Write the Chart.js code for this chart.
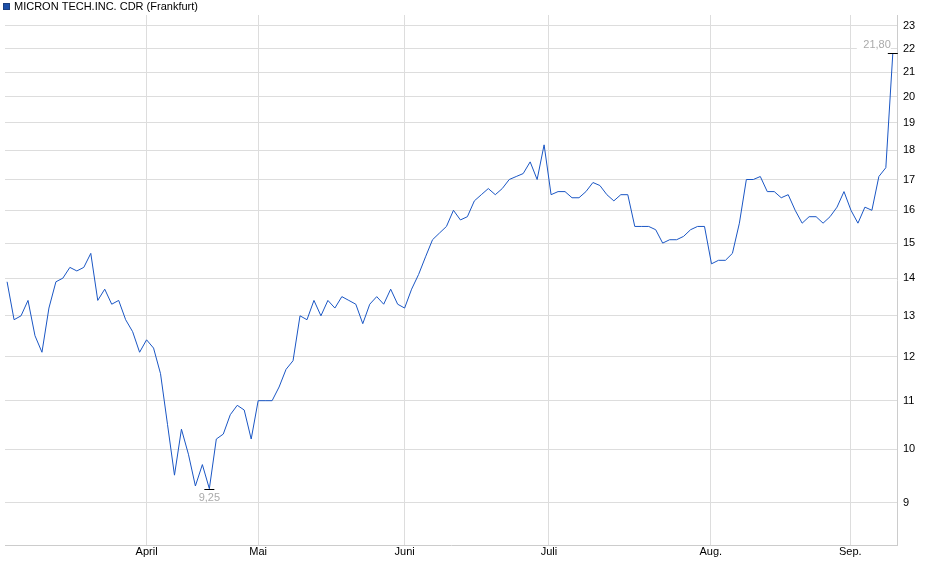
<!DOCTYPE html>
<html><head><meta charset="utf-8">
<script src="https://cdn.jsdelivr.net/npm/chart.js@4"></script>
<style>html,body{margin:0;padding:0;background:#fff}#w{width:940px;height:579px}</style>
</head><body><div id="w"><canvas id="c"></canvas></div>
<script>
const seriesName = "MICRON TECH.INC. CDR (Frankfurt)";
const prices = [13.9,12.9,13.0,13.4,12.5,12.1,13.2,13.9,14.0,14.3,14.2,14.3,14.7,13.4,13.7,13.3,13.4,12.9,12.6,12.1,
12.4,12.2,11.6,10.5,9.5,10.4,9.9,9.3,9.7,9.25,10.2,10.3,10.7,10.9,10.8,10.2,11.0,11.0,11.0,11.3,
11.7,11.9,13.0,12.9,13.4,13.0,13.4,13.2,13.5,13.4,13.3,12.8,13.3,13.5,13.3,13.7,13.3,13.2,13.7,14.1,
14.6,15.1,15.3,15.5,16.0,15.7,15.8,16.3,16.5,16.7,16.5,16.7,17.0,17.1,17.2,17.6,17.0,18.2,16.5,16.6,
16.6,16.4,16.4,16.6,16.9,16.8,16.5,16.3,16.5,16.5,15.5,15.5,15.5,15.4,15.0,15.1,15.1,15.2,15.4,15.5,
15.5,14.4,14.5,14.5,14.7,15.6,17.0,17.0,17.1,16.6,16.6,16.4,16.5,16.0,15.6,15.8,15.8,15.6,15.8,16.1,
16.6,16.0,15.6,16.1,16.0,17.1,17.4,21.8];
const monthLabels = ["April","Mai","Juni","Juli","Aug.","Sep."];
const monthIdx = [20,36,57,77.7,100.9,120.9];
const yTicks = [9,10,11,12,13,14,15,16,17,18,19,20,21,22,23];
const minIdx = 29, maxIdx = prices.length-1;
const fmt = v => v.toFixed(2).replace('.', ',');

const ann = {
  id:'ann',
  afterDatasetsDraw(ch){
    const c=ch.ctx, x=ch.scales.x, y=ch.scales.y;
    c.save();
    c.strokeStyle='#000'; c.lineWidth=1;
    [[minIdx,'below'],[maxIdx,'above']].forEach(([i,pos])=>{
      const px=x.getPixelForValue(i), py=Math.round(y.getPixelForValue(prices[i]))+0.5;
      c.beginPath(); c.moveTo(px-5,py); c.lineTo(px+5,py); c.stroke();
      c.font='11px Arial, "Liberation Sans", sans-serif'; c.fillStyle='#aaa';
      if(pos==='below'){c.textAlign='center';c.textBaseline='top';c.fillText(fmt(prices[i]),px,py+3);}
      else{c.textAlign='right';c.textBaseline='bottom';c.fillStyle='#fff';c.fillRect(px-36,py-17,34,13);c.fillStyle='#aaa';c.fillText(fmt(prices[i]),px-2,py-3);}
    });
    c.fillStyle='#1c4fa8'; c.fillRect(3,3,7,7);
    c.strokeStyle='#1c3f80'; c.strokeRect(3.5,3.5,6,6);
    c.fillStyle='#000'; c.font='11px Arial, "Liberation Sans", sans-serif';
    c.textAlign='left'; c.textBaseline='middle'; c.fillText(seriesName,14,7);
    c.restore();
  }
};

new Chart(document.getElementById('c'),{
  type:'line',
  data:{datasets:[{data:prices.map((v,i)=>({x:i,y:v})),borderColor:'#1a56c4',borderWidth:1,pointRadius:0,tension:0}]},
  options:{
    responsive:true, maintainAspectRatio:false, animation:false,
    layout:{padding:{top:15,left:5,right:0,bottom:0}},
    plugins:{legend:{display:false},tooltip:{enabled:false}},
    scales:{
      x:{type:'linear',min:-0.3,max:127.6,
        afterBuildTicks:s=>{s.ticks=monthIdx.map(v=>({value:v}));},
        afterFit:s=>{s.height=34;},
        ticks:{autoSkip:false,maxRotation:0,padding:0,color:'#000',font:{size:11,family:'Arial, "Liberation Sans", sans-serif'},
          callback:(v,i)=>monthLabels[i]},
        grid:{color:'#ddd',drawTicks:false},border:{color:'#ccc'}},
      y:{type:'logarithmic',position:'right',min:8.28,max:23.5,
        afterBuildTicks:s=>{s.ticks=yTicks.map(v=>({value:v}));},
        afterFit:s=>{s.width=43;},
        ticks:{color:'#000',padding:6,font:{size:11,family:'Arial, "Liberation Sans", sans-serif'},callback:v=>String(v)},
        grid:{color:'#ddd',drawTicks:false},border:{color:'#ccc'}}
    }
  },
  plugins:[ann]
});
</script></body></html>
